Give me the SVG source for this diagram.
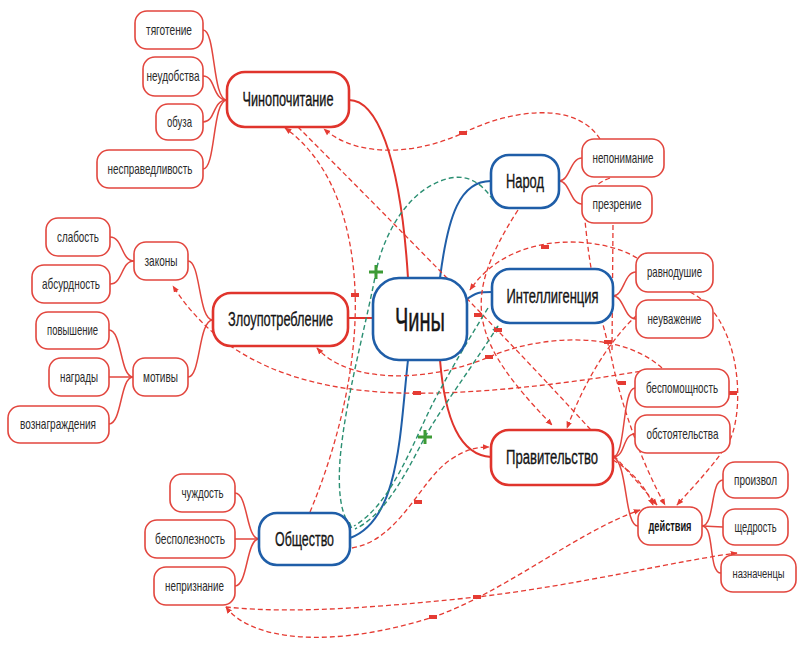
<svg xmlns="http://www.w3.org/2000/svg" width="799" height="646" viewBox="0 0 799 646">
<defs>
<style>
.bg{fill:#ffffff}
.leaf rect{fill:#fff;stroke:#e2463e;stroke-width:1.6}
.leaf text{font-family:"Liberation Sans",Arial,sans-serif;font-size:15px;fill:#2a2a2a;text-anchor:middle}
.mainr rect{fill:#fff;stroke:#e0342c;stroke-width:2.6}
.mainb rect{fill:#fff;stroke:#1f5ea8;stroke-width:2.6}
.mainr text,.mainb text{font-family:"Liberation Sans",Arial,sans-serif;font-size:20px;fill:#151515;stroke:#151515;stroke-width:0.35;text-anchor:middle}
.te{fill:none;stroke:#e2463e;stroke-width:1.5}
.ter{fill:none;stroke:#e0342c;stroke-width:2}
.teb{fill:none;stroke:#1f5ea8;stroke-width:2}
.rel{fill:none;stroke:#e53b33;stroke-width:1.3;stroke-dasharray:5 3}
.relg{fill:none;stroke:#2b8f72;stroke-width:1.4;stroke-dasharray:5 3}
.minus{fill:#e53b33}
.plus{stroke:#3d9b35;stroke-width:3;fill:none}
</style>
<marker id="ar" viewBox="0 0 10 10" refX="9" refY="5" markerWidth="7" markerHeight="7" markerUnits="userSpaceOnUse" orient="auto-start-reverse">
<path d="M0,1 L10,5 L0,9 z" fill="#e53b33"/>
</marker>
<marker id="ag" viewBox="0 0 10 10" refX="9" refY="5" markerWidth="7" markerHeight="7" markerUnits="userSpaceOnUse" orient="auto-start-reverse">
<path d="M0,1 L10,5 L0,9 z" fill="#2b8f72"/>
</marker>
</defs>
<rect class="bg" x="0" y="0" width="799" height="646"/>

<g id="connectors">
<path class="te" d="M227,100 C212,100 216,30 203,30"/>
<path class="te" d="M227,100 C212,100 216,76 203,76"/>
<path class="te" d="M227,100 C212,100 216,122 203,122"/>
<path class="te" d="M227,100 C212,100 216,169 203,169"/>
<path class="te" d="M213,320 C198,320 201,261 188,261"/>
<path class="te" d="M213,320 C198,320 201,377 188,377"/>
<path class="te" d="M134,261 C121,261 123,237 110,237"/>
<path class="te" d="M134,261 C121,261 123,284 110,284"/>
<path class="te" d="M133,377 C120,377 122,330 109,330"/>
<path class="te" d="M133,377 L109,377"/>
<path class="te" d="M133,377 C120,377 122,424 109,424"/>
<path class="te" d="M259,539 C246,539 248,493 235,493"/>
<path class="te" d="M259,539 L235,539"/>
<path class="te" d="M259,539 C246,539 248,586 235,586"/>
<path class="te" d="M559,181 C570,181 570,158 582,158"/>
<path class="te" d="M559,181 C570,181 570,204 582,204"/>
<path class="te" d="M613,296 C624,296 624,272 636,272"/>
<path class="te" d="M613,296 C624,296 624,319 636,319"/>
<path class="te" d="M613,457 C626,457 622,388 635,388"/>
<path class="te" d="M613,457 C626,457 622,434 635,434"/>
<path class="te" d="M613,457 C628,462 624,526 638,526"/>
<path class="te" d="M702,526 C715,526 710,480 723,480"/>
<path class="te" d="M702,526 L723,527"/>
<path class="te" d="M702,526 C715,526 708,573 721,573"/>
<path class="ter" d="M349,100 C375,100 400,150 408,278"/>
<path class="ter" d="M373,318 L348,318"/>
<path class="ter" d="M440,360 C445,420 460,455 491,457"/>
<path class="teb" d="M440,278 C448,215 460,181 491,181"/>
<path class="teb" d="M466,300 C476,292 480,292 492,292"/>
<path class="teb" d="M408,360 C400,430 400,520 350,538"/>
<path class="rel" d="M600,139 C575,100 510,110 463,133 C420,153 360,160 324,129" marker-end="url(#ar)"/>
<path class="rel" d="M298,127 C400,230 560,390 657,505" marker-end="url(#ar)"/>
<path class="rel" d="M310,512 C340,440 358,360 355,290 C352,220 330,160 285,128" marker-end="url(#ar)"/>
<path class="rel" d="M518,210 C460,300 470,340 552,425" marker-end="url(#ar)"/>
<path class="rel" d="M637,258 C600,235 510,230 470,290" marker-end="url(#ar)"/>
<path class="rel" d="M648,370 C560,385 470,395 400,393 C300,390 220,360 173,286" marker-end="url(#ar)"/>
<path class="rel" d="M662,368 C620,330 540,335 489,357 C430,382 350,385 317,348" marker-end="url(#ar)"/>
<path class="rel" d="M637,315 C610,340 585,380 567,428" marker-end="url(#ar)"/>
<path class="rel" d="M613,225 L612,350"/>
<path class="rel" d="M610,178 C590,185 582,200 586,230 C592,290 605,330 612,360 C620,400 640,460 665,505" marker-end="url(#ar)"/>
<path class="rel" d="M613,460 C630,470 645,485 653,505" marker-end="url(#ar)"/>
<path class="rel" d="M690,292 C745,320 745,420 727,445 C710,470 690,490 677,505" marker-end="url(#ar)"/>
<path class="rel" d="M352,548 C400,540 420,480 450,460 C465,450 475,447 489,447" marker-end="url(#ar)"/>
<path class="rel" d="M226,607 C300,615 400,605 477,597 C580,585 680,560 737,553" marker-end="url(#ar)"/>
<path class="rel" d="M226,607 C250,640 330,650 433,617 C500,595 580,530 640,510" marker-start="url(#ar)" marker-end="url(#ar)"/>
<path class="relg" d="M493,200 C480,180 465,175 450,178 C400,190 380,250 376,272 C365,330 345,400 340,460 C338,490 340,515 352,528" marker-end="url(#ag)"/>
<path class="relg" d="M498,326 C470,370 440,410 425,437 C405,475 385,515 355,529" marker-start="url(#ag)"/>
<path class="relg" d="M488,308 C465,345 445,380 432,405 C410,450 390,505 354,526"/>
<rect class="minus" x="459" y="131" width="8" height="4"/>
<rect class="minus" x="351" y="293" width="8" height="4"/>
<rect class="minus" x="474" y="313" width="8" height="4"/>
<rect class="minus" x="494" y="328" width="8" height="4"/>
<rect class="minus" x="541" y="245" width="8" height="4"/>
<rect class="minus" x="604" y="288" width="8" height="4"/>
<rect class="minus" x="485" y="355" width="8" height="4"/>
<rect class="minus" x="413" y="391" width="8" height="4"/>
<rect class="minus" x="604" y="340" width="8" height="4"/>
<rect class="minus" x="618" y="381" width="8" height="4"/>
<rect class="minus" x="729" y="391" width="8" height="4"/>
<rect class="minus" x="414" y="500" width="8" height="4"/>
<rect class="minus" x="473" y="595" width="8" height="4"/>
<rect class="minus" x="429" y="615" width="8" height="4"/>
<path class="plus" d="M376,265 V279 M369,272 H383"/>
<path class="plus" d="M425,430 V444 M418,437 H432"/>
</g>

<g id="n-chinopochitanie" class="mainr"><rect x="227" y="72" width="122" height="55" rx="18"/><text x="288" y="106" textLength="91" lengthAdjust="spacingAndGlyphs">Чинопочитание</text></g>
<g id="n-zloupotreblenie" class="mainr"><rect x="213" y="293" width="135" height="53" rx="18"/><text x="280.5" y="326" textLength="105" lengthAdjust="spacingAndGlyphs">Злоупотребление</text></g>
<g id="n-pravitelstvo" class="mainr"><rect x="491" y="430" width="122" height="55" rx="18"/><text x="552" y="464" textLength="92" lengthAdjust="spacingAndGlyphs">Правительство</text></g>
<g id="n-chiny" class="mainb"><rect x="373" y="278" width="94" height="82" rx="26"/><text x="420" y="331" style="font-size:34px;stroke-width:0.5" textLength="50" lengthAdjust="spacingAndGlyphs">Чины</text></g>
<g id="n-narod" class="mainb"><rect x="491" y="155" width="68" height="53" rx="18"/><text x="525" y="188" textLength="38" lengthAdjust="spacingAndGlyphs">Народ</text></g>
<g id="n-intelligentsia" class="mainb"><rect x="492" y="269" width="121" height="54" rx="18"/><text x="552.5" y="303" textLength="92" lengthAdjust="spacingAndGlyphs">Интеллигенция</text></g>
<g id="n-obshchestvo" class="mainb"><rect x="259" y="513" width="91" height="52" rx="18"/><text x="304.5" y="546" textLength="59" lengthAdjust="spacingAndGlyphs">Общество</text></g>

<g id="l-tyagotenie" class="leaf"><rect x="135" y="11" width="68" height="38" rx="12"/><text x="169" y="34.5" textLength="46" lengthAdjust="spacingAndGlyphs">тяготение</text></g>
<g id="l-neudobstva" class="leaf"><rect x="143" y="57" width="60" height="39" rx="12"/><text x="173" y="81" textLength="53" lengthAdjust="spacingAndGlyphs">неудобства</text></g>
<g id="l-obuza" class="leaf"><rect x="156" y="104" width="47" height="36" rx="12"/><text x="179.5" y="126.5" textLength="25" lengthAdjust="spacingAndGlyphs">обуза</text></g>
<g id="l-nespravedlivost" class="leaf"><rect x="97" y="150" width="106" height="38" rx="12"/><text x="150" y="173.5" textLength="85" lengthAdjust="spacingAndGlyphs">несправедливость</text></g>
<g id="l-slabost" class="leaf"><rect x="46" y="218" width="64" height="38" rx="12"/><text x="78" y="241.5" textLength="42" lengthAdjust="spacingAndGlyphs">слабость</text></g>
<g id="l-absurdnost" class="leaf"><rect x="32" y="265" width="78" height="38" rx="12"/><text x="71" y="288.5" textLength="58" lengthAdjust="spacingAndGlyphs">абсурдность</text></g>
<g id="l-zakony" class="leaf"><rect x="134" y="242" width="54" height="38" rx="12"/><text x="161" y="265.5" textLength="33" lengthAdjust="spacingAndGlyphs">законы</text></g>
<g id="l-povyshenie" class="leaf"><rect x="36" y="312" width="73" height="37" rx="12"/><text x="72.5" y="335" textLength="51" lengthAdjust="spacingAndGlyphs">повышение</text></g>
<g id="l-nagrady" class="leaf"><rect x="49" y="358" width="60" height="38" rx="12"/><text x="79" y="381.5" textLength="38" lengthAdjust="spacingAndGlyphs">награды</text></g>
<g id="l-motivy" class="leaf"><rect x="133" y="358" width="55" height="38" rx="12"/><text x="160.5" y="381.5" textLength="35" lengthAdjust="spacingAndGlyphs">мотивы</text></g>
<g id="l-voznagrazhdeniya" class="leaf"><rect x="8" y="406" width="101" height="37" rx="12"/><text x="58" y="429" textLength="76" lengthAdjust="spacingAndGlyphs">вознаграждения</text></g>
<g id="l-chuzhdost" class="leaf"><rect x="170" y="474" width="65" height="38" rx="12"/><text x="202.5" y="497.5" textLength="42" lengthAdjust="spacingAndGlyphs">чуждость</text></g>
<g id="l-bespoleznost" class="leaf"><rect x="145" y="520" width="90" height="38" rx="12"/><text x="190" y="543.5" textLength="70" lengthAdjust="spacingAndGlyphs">бесполезность</text></g>
<g id="l-nepriznanie" class="leaf"><rect x="154" y="567" width="81" height="38" rx="12"/><text x="194.5" y="590.5" textLength="59" lengthAdjust="spacingAndGlyphs">непризнание</text></g>
<g id="l-neponimanie" class="leaf"><rect x="582" y="139" width="82" height="38" rx="12"/><text x="623" y="162.5" textLength="61" lengthAdjust="spacingAndGlyphs">непонимание</text></g>
<g id="l-prezrenie" class="leaf"><rect x="582" y="186" width="70" height="37" rx="12"/><text x="617" y="209" textLength="49" lengthAdjust="spacingAndGlyphs">презрение</text></g>
<g id="l-ravnodushie" class="leaf"><rect x="636" y="253" width="77" height="39" rx="12"/><text x="674.5" y="277" textLength="55" lengthAdjust="spacingAndGlyphs">равнодушие</text></g>
<g id="l-neuvazhenie" class="leaf"><rect x="636" y="300" width="77" height="38" rx="12"/><text x="674.5" y="323.5" textLength="54" lengthAdjust="spacingAndGlyphs">неуважение</text></g>
<g id="l-bespomoshchnost" class="leaf"><rect x="635" y="369" width="94" height="38" rx="12"/><text x="682" y="392.5" textLength="72" lengthAdjust="spacingAndGlyphs">беспомощность</text></g>
<g id="l-obstoyatelstva" class="leaf"><rect x="635" y="415" width="95" height="38" rx="12"/><text x="682.5" y="438.5" textLength="72" lengthAdjust="spacingAndGlyphs">обстоятельства</text></g>
<g id="l-proizvol" class="leaf"><rect x="723" y="462" width="65" height="36" rx="12"/><text x="755.5" y="484.5" textLength="43" lengthAdjust="spacingAndGlyphs">произвол</text></g>
<g id="l-deystviya" class="leaf"><rect x="638" y="507" width="64" height="38" rx="12"/><text x="670" y="530.5" style="font-weight:bold;fill:#151515" textLength="43" lengthAdjust="spacingAndGlyphs">действия</text></g>
<g id="l-shchedrost" class="leaf"><rect x="723" y="509" width="65" height="36" rx="12"/><text x="755.5" y="531.5" style="font-size:14px" textLength="42" lengthAdjust="spacingAndGlyphs">щедрость</text></g>
<g id="l-naznachentsy" class="leaf"><rect x="721" y="555" width="75" height="37" rx="12"/><text x="758.5" y="578" style="font-size:12.5px" textLength="52" lengthAdjust="spacingAndGlyphs">назначенцы</text></g>
</svg>
